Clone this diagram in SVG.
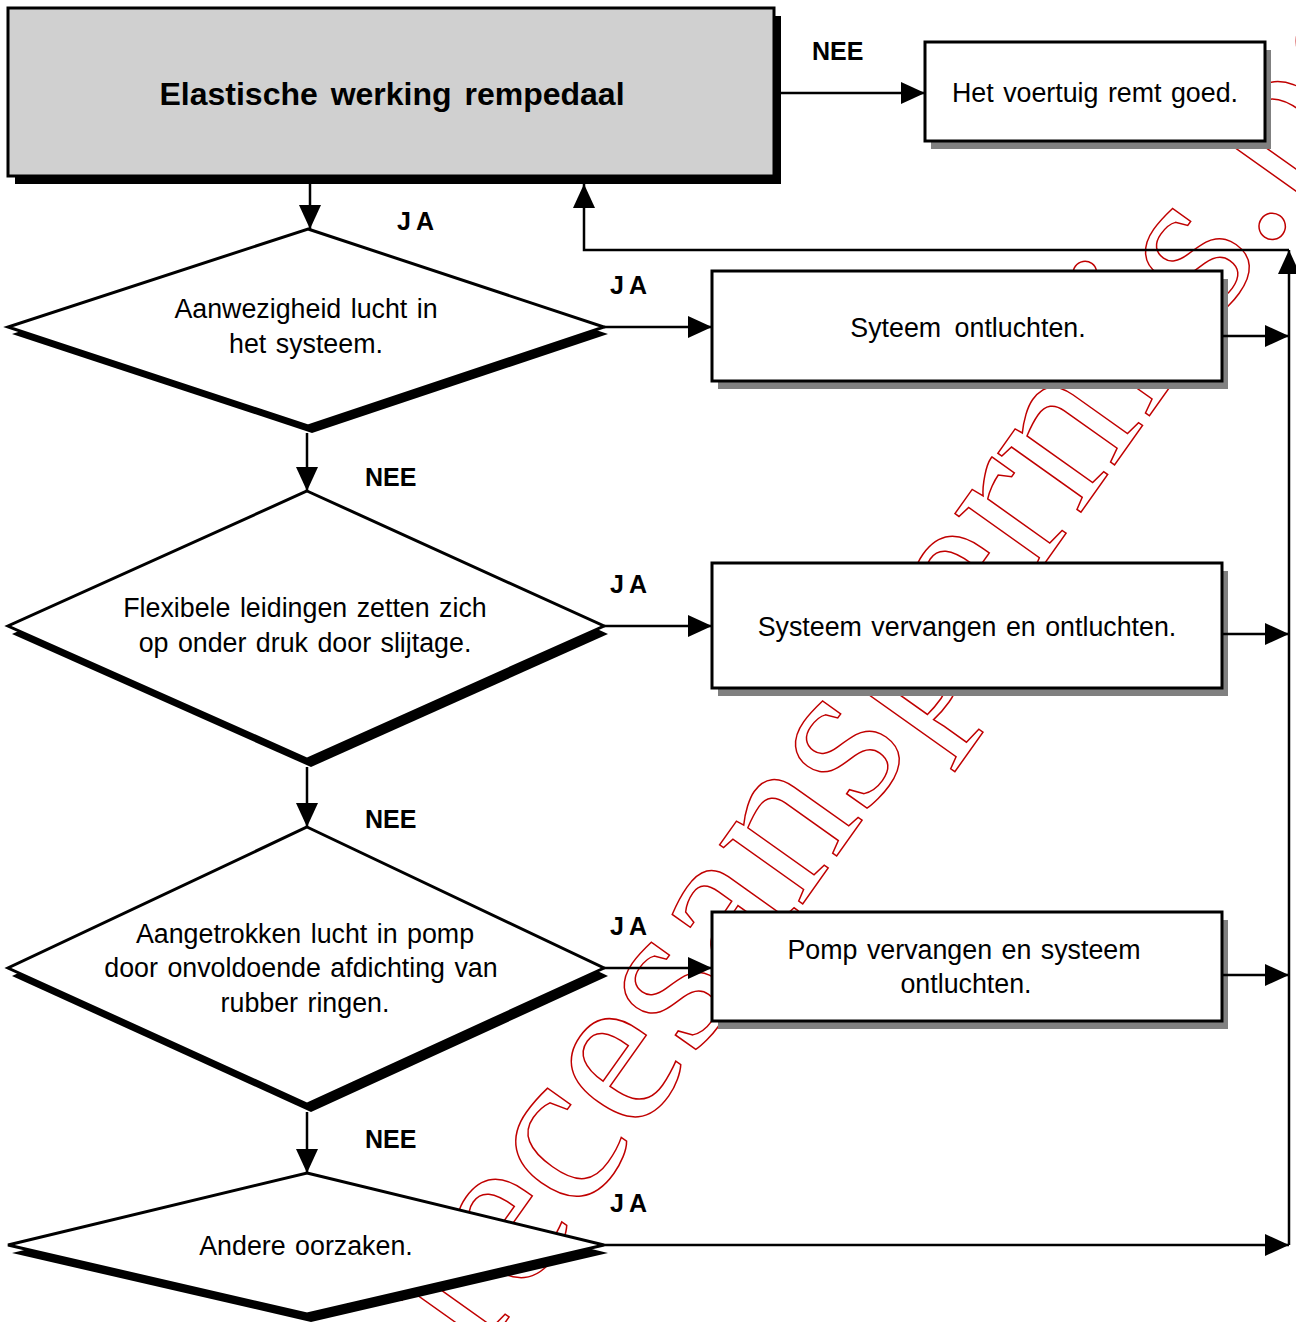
<svg xmlns="http://www.w3.org/2000/svg" width="1296" height="1322" viewBox="0 0 1296 1322">
  <defs>
    <marker id="arrow" viewBox="0 0 24 22" refX="24" refY="11" markerWidth="24" markerHeight="22" orient="auto" markerUnits="userSpaceOnUse">
      <path d="M0,0 L24,11 L0,22 z" fill="#000"/>
    </marker>
  </defs>
  <style>
    .txt { font-family: "Liberation Sans", Arial, sans-serif; font-size: 26.8px; fill: #000; text-anchor: middle; word-spacing: 2px; }
    .title { font-family: "Liberation Sans", Arial, sans-serif; font-size: 32px; font-weight: bold; fill: #000; text-anchor: middle; word-spacing: 4px; }
    .lbl { font-family: "Liberation Sans", Arial, sans-serif; font-size: 25px; font-weight: bold; fill: #000; }
    .ja { letter-spacing: 5px; }
    .box { fill: #fff; stroke: #000; stroke-width: 3; }
    .boxshadow { fill: #808080; }
    .dia { fill: #fff; stroke: #000; stroke-width: 3; stroke-linejoin: miter; }
    .diashadow { fill: #000; }
    .wire { fill: none; stroke: #000; stroke-width: 2.5; }
    .mark { font-family: "Liberation Serif", "Times New Roman", serif; font-size: 222px; fill: none; stroke: #c00000; stroke-width: 1.5; }
  </style>

  <rect width="1296" height="1322" fill="#fff"/>

  <!-- red outlined background lettering, covered by the shapes drawn after it -->
  <g id="watermark">
    <text class="mark" transform="translate(414.3,1450.5) rotate(-54.6)">orecesanspermis.be</text>
  </g>

  <!-- decision diamonds -->
  <g id="q-lucht">
    <polygon class="diashadow" points="312,236 608,334 312,433 12,334"/>
    <polygon class="dia" points="308,229 604,327 308,426 8,327"/>
    <text class="txt" x="306" y="318">Aanwezigheid lucht in</text>
    <text class="txt" x="306" y="353">het systeem.</text>
  </g>

  <g id="q-leidingen">
    <polygon class="diashadow" points="311,499 608,634 311,767 12,634"/>
    <polygon class="dia" points="307,491 604,626 307,759 8,626"/>
    <text class="txt" x="305" y="617">Flexibele leidingen zetten zich</text>
    <text class="txt" x="305" y="652">op onder druk door slijtage.</text>
  </g>

  <g id="q-pomp">
    <polygon class="diashadow" points="311,835 608,976 311,1112 12,976"/>
    <polygon class="dia" points="307,827 604,968 307,1104 8,968"/>
    <text class="txt" x="305" y="943">Aangetrokken lucht in pomp</text>
    <text class="txt" x="301" y="977">door onvoldoende afdichting van</text>
    <text class="txt" x="305" y="1012">rubber ringen.</text>
  </g>

  <g id="q-andere">
    <polygon class="diashadow" points="311,1181 608,1253 311,1322 12,1253"/>
    <polygon class="dia" points="307,1173 604,1245 307,1314 8,1245"/>
    <text class="txt" x="306" y="1255">Andere oorzaken.</text>
  </g>

  <!-- start node -->
  <g id="start">
    <rect x="15" y="16" width="766" height="168" fill="#000"/>
    <rect x="8" y="8" width="766" height="168" fill="#d0d0d0" stroke="#000" stroke-width="3"/>
    <text class="title" x="392" y="105">Elastische werking rempedaal</text>
  </g>

  <!-- result boxes -->
  <g id="r-goed">
    <rect class="boxshadow" x="931" y="50" width="340" height="99"/>
    <rect class="box" x="925" y="42" width="340" height="99"/>
    <text class="txt" x="1095" y="102">Het voertuig remt goed.</text>
  </g>

  <g id="r-ontluchten">
    <rect class="boxshadow" x="718" y="279" width="510" height="110"/>
    <rect class="box" x="712" y="271" width="510" height="110"/>
    <text class="txt" x="968" y="337" style="word-spacing:6px">Syteem ontluchten.</text>
  </g>

  <g id="r-systeem">
    <rect class="boxshadow" x="718" y="571" width="510" height="125"/>
    <rect class="box" x="712" y="563" width="510" height="125"/>
    <text class="txt" x="967" y="636">Systeem vervangen en ontluchten.</text>
  </g>

  <g id="r-pomp">
    <rect class="boxshadow" x="718" y="920" width="510" height="109"/>
    <rect class="box" x="712" y="912" width="510" height="109"/>
    <text class="txt" x="964" y="959">Pomp vervangen en systeem</text>
    <text class="txt" x="966" y="993">ontluchten.</text>
  </g>

  <!-- connectors -->
  <g id="connectors">
    <path class="wire" d="M781,93 H925" marker-end="url(#arrow)"/>
    <path class="wire" d="M310,184 V229" marker-end="url(#arrow)"/>
    <path class="wire" d="M604,327 H712" marker-end="url(#arrow)"/>
    <path class="wire" d="M307,433 V491" marker-end="url(#arrow)"/>
    <path class="wire" d="M604,626 H712" marker-end="url(#arrow)"/>
    <path class="wire" d="M307,767 V827" marker-end="url(#arrow)"/>
    <path class="wire" d="M604,968 H712" marker-end="url(#arrow)"/>
    <path class="wire" d="M307,1112 V1173" marker-end="url(#arrow)"/>
    <path class="wire" d="M604,1245 H1289" marker-end="url(#arrow)"/>
    <path class="wire" d="M1222,336 H1289" marker-end="url(#arrow)"/>
    <path class="wire" d="M1222,634 H1289" marker-end="url(#arrow)"/>
    <path class="wire" d="M1222,975 H1289" marker-end="url(#arrow)"/>
    <path class="wire" d="M1289,1245 V250" marker-end="url(#arrow)"/>
    <path class="wire" d="M1289,250 H584 V184" marker-end="url(#arrow)"/>
  </g>

  <!-- branch labels -->
  <g id="labels">
    <text class="lbl" x="812" y="60">NEE</text>
    <text class="lbl ja" x="397" y="230">JA</text>
    <text class="lbl ja" x="610" y="294">JA</text>
    <text class="lbl" x="365" y="486">NEE</text>
    <text class="lbl ja" x="610" y="593">JA</text>
    <text class="lbl" x="365" y="828">NEE</text>
    <text class="lbl ja" x="610" y="935">JA</text>
    <text class="lbl" x="365" y="1148">NEE</text>
    <text class="lbl ja" x="610" y="1212">JA</text>
  </g>
</svg>
